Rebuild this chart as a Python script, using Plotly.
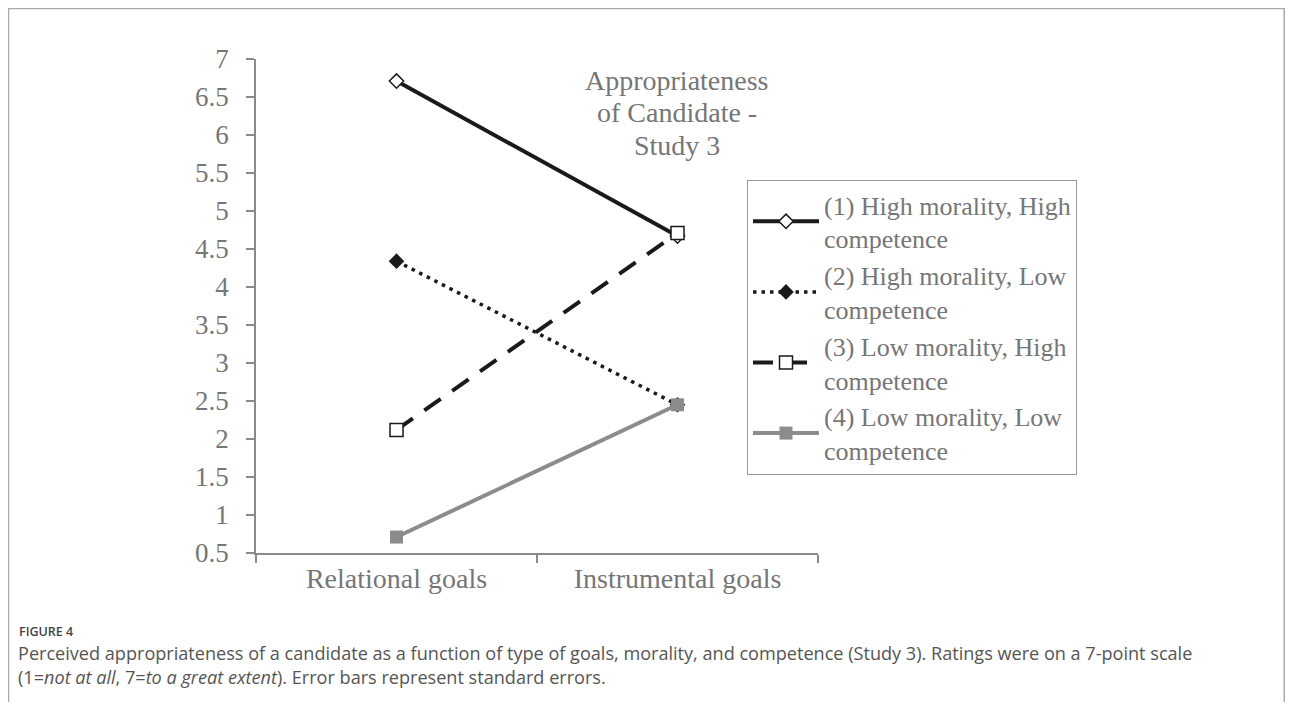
import plotly.graph_objects as go

categories = ["Relational goals", "Instrumental goals"]
cat_pos = [0.5, 1.5]
series_names = [
    "(1) High morality, High<br>competence",
    "(2) High morality, Low<br>competence",
    "(3) Low morality, High<br>competence",
    "(4) Low morality, Low<br>competence",
]
s1 = [6.71, 4.67]
s2 = [4.34, 2.45]
s3 = [2.12, 4.71]
s4 = [0.71, 2.45]
y_ticks = [0.5, 1, 1.5, 2, 2.5, 3, 3.5, 4, 4.5, 5, 5.5, 6, 6.5, 7]
title_lines = ["Appropriateness", "of Candidate -", "Study 3"]
caption_label = "FIGURE 4"
caption_lines = [
    "Perceived appropriateness of a candidate as a function of type of goals, morality, and competence "
    "(Study 3). Ratings were on a 7-point scale",
    "(1=<i>not at all</i>, 7=<i>to a great extent</i>). Error bars represent standard errors.",
]

serif = "Liberation Serif, Times New Roman, serif"
sans = "Open Sans, Lato, sans-serif"
gray_txt = "#767676"
axis_col = "#8a8a8a"

# page is drawn with an 8px body margin; size the figure so the page fills the window
OFF = 8
W, H = 1293 - 2 * OFF, 710 - 2 * OFF


def px(x):
    return (x - OFF) / W


def py(y):
    return 1 - (y - OFF) / H


fig = go.Figure()
styles = [
    dict(line=dict(color="#1a1a1a", width=4),
         marker=dict(symbol="diamond", size=11, color="white", line=dict(color="#1a1a1a", width=1.5))),
    dict(line=dict(color="#1a1a1a", width=3.5, dash="3.5px,5px"),
         marker=dict(symbol="diamond", size=12, color="#1a1a1a")),
    dict(line=dict(color="#1a1a1a", width=4, dash="20px,14px"),
         marker=dict(symbol="square", size=13, color="white", line=dict(color="#1a1a1a", width=1.5))),
    dict(line=dict(color="#8c8c8c", width=4),
         marker=dict(symbol="square", size=13, color="#8c8c8c")),
]
for i, (name, vals, st) in enumerate(zip(series_names, [s1, s2, s3, s4], styles)):
    fig.add_trace(go.Scatter(x=cat_pos, y=vals, mode="lines+markers", name=name,
                             legendgroup=f"g{i}", **st))

fig.update_layout(
    width=W, height=H,
    margin=dict(l=0, r=0, t=0, b=0, pad=0, autoexpand=False),
    paper_bgcolor="white", plot_bgcolor="white",
    font=dict(family=serif, color=gray_txt, size=28),
    xaxis=dict(
        domain=[px(256), px(818)], range=[0, 2],
        tickvals=cat_pos, ticktext=categories, ticks="", showgrid=False,
        showline=True, linecolor=axis_col, linewidth=1.5, zeroline=False,
        tickfont=dict(size=28, color=gray_txt, family=serif),
        minor=dict(tickvals=[0, 1, 2], ticks="outside", ticklen=8, tickcolor=axis_col,
                   tickwidth=1.5, showgrid=False),
        ticklabelstandoff=0, automargin=False,
    ),
    yaxis=dict(
        domain=[py(553), py(59)], range=[0.5, 7],
        tickvals=y_ticks, ticktext=[f"{v:g}" for v in y_ticks],
        ticks="outside", ticklen=8, tickcolor=axis_col, tickwidth=1.5,
        showgrid=False, showline=True, linecolor=axis_col, linewidth=1.5, zeroline=False,
        tickfont=dict(size=27, color=gray_txt, family=serif), ticklabelstandoff=12,
        automargin=False,
    ),
    legend=dict(
        x=px(747), y=py(180), xanchor="left", yanchor="top",
        bordercolor="#9a9a9a", borderwidth=1, bgcolor="white",
        font=dict(size=26, color=gray_txt, family=serif),
        itemwidth=66, tracegroupgap=0,
    ),
    showlegend=True,
)

for line, yc in zip(title_lines, [80, 113, 145]):
    fig.add_annotation(text=line, x=px(677), y=py(yc), xref="paper", yref="paper",
                       xanchor="center", yanchor="middle", showarrow=False,
                       font=dict(size=28, color=gray_txt, family=serif))

# outer frame (left, top, right edges)
fig.add_shape(type="path", xref="paper", yref="paper",
              path=f"M {px(8.5)} -0.02 L {px(8.5)} {py(8.5)} L {(W - 0.75) / W} {py(8.5)} L {(W - 0.75) / W} -0.02",
              line=dict(color="#aaaaaa", width=1.5), layer="below")

fig.add_annotation(text=caption_label, x=px(17), y=py(631), xref="paper", yref="paper",
                   xanchor="left", yanchor="middle", showarrow=False,
                   font=dict(size=12.5, color="#444444", family=sans, weight=600))
for line, yc in zip(caption_lines, [653, 677]):
    fig.add_annotation(text=line, x=px(16), y=py(yc), xref="paper", yref="paper",
                       xanchor="left", yanchor="middle", showarrow=False, align="left",
                       font=dict(size=18.1, color="#555555", family=sans))

fig.write_html("out.html")
